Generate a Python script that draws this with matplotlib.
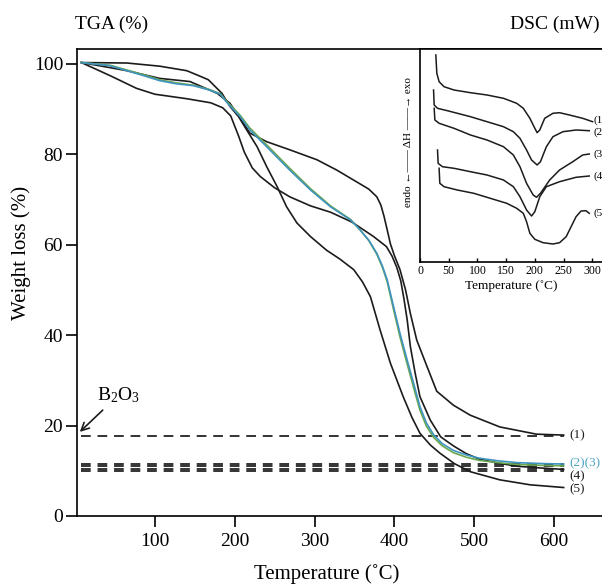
import numpy as np
import matplotlib
matplotlib.use("Agg")
import matplotlib.pyplot as plt

plt.rcParams['font.family'] = ['Liberation Serif', 'DejaVu Serif']
plt.rcParams['mathtext.fontset'] = 'custom'
plt.rcParams['mathtext.rm'] = 'Liberation Serif'
plt.rcParams['mathtext.default'] = 'rm'

# ---------------- TGA data (temperature in C, weight %) ----------------
t1 = [8, 40, 65, 106, 144, 178, 194, 205, 219, 240, 269, 303, 328, 349, 368, 378, 383, 387, 391,
      395, 400, 407, 414, 420, 428, 441, 453, 474, 495, 532, 578, 612]
w1 = [100.3, 99.3, 98.5, 96.8, 96.1, 93.5, 91.3, 88.5, 84.7, 82.8, 81.0, 78.8, 76.5, 74.3, 72.3,
      70.6, 68.8, 66.3, 63.3, 60.2, 57.6, 54.5, 50.0, 44.8, 38.9, 33.0, 27.6, 24.5, 22.3, 19.7, 18.1, 17.9]

t2 = [8, 44, 86, 106, 127, 148, 169, 182, 190, 207, 219, 240, 269, 295, 320, 345, 357, 368, 378,
      385, 391, 399, 407, 416, 424, 432, 440, 449, 460, 474, 490, 506, 530, 554, 585, 612]
w2 = [100.3, 99.7, 97.6, 96.5, 95.8, 95.3, 94.3, 93.4, 91.7, 88.6, 85.8, 82.1, 76.9, 72.4, 68.6,
      65.6, 63.3, 60.9, 57.9, 55.0, 51.8, 45.6, 39.6, 33.6, 28.4, 23.4, 19.9, 17.4, 15.5, 14.0, 13.0,
      12.3, 11.8, 11.4, 11.2, 11.1]

t3 = [8, 44, 86, 106, 127, 148, 169, 182, 190, 207, 219, 240, 269, 295, 320, 345, 357, 368, 378,
      385, 391, 399, 407, 416, 424, 432, 440, 449, 460, 474, 490, 506, 530, 554, 585, 612]
w3 = [100.3, 99.6, 97.4, 96.3, 95.6, 95.2, 94.2, 93.3, 91.5, 88.3, 85.4, 81.7, 76.5, 72.1, 68.4,
      65.5, 63.3, 61.0, 58.1, 55.3, 52.2, 46.3, 40.4, 34.5, 29.4, 24.2, 20.6, 18.0, 16.0, 14.5, 13.5,
      12.8, 12.2, 11.8, 11.6, 11.5]

t4 = [8, 44, 77, 100, 140, 170, 185, 195, 205, 212, 222, 232, 250, 269, 295, 320, 347, 374, 390,
      397, 403, 408, 412, 416, 420, 426, 432, 445, 458, 474, 490, 506, 530, 554, 585, 612]
w4 = [100.3, 97.4, 94.6, 93.3, 92.3, 91.4, 90.3, 88.5, 84.0, 80.5, 77.0, 75.1, 72.6, 70.6, 68.6,
      67.2, 65.0, 61.8, 59.6, 57.5, 55.0, 52.0, 48.0, 43.4, 37.5, 31.6, 26.4, 21.2, 17.5, 15.5, 13.8,
      12.6, 11.7, 11.0, 10.6, 10.3]

t5 = [8, 65, 106, 140, 155, 167, 184, 194, 205, 215, 228, 240, 253, 265, 278, 295, 315, 332, 349,
      360, 370, 382, 395, 411, 422, 432, 445, 457, 475, 495, 532, 570, 612]
w5 = [100.3, 100.2, 99.5, 98.5, 97.4, 96.5, 93.5, 90.6, 88.3, 85.4, 81.7, 77.3, 72.9, 68.4, 64.8,
      61.8, 58.8, 56.8, 54.5, 51.8, 48.5, 41.2, 33.8, 26.4, 21.8, 18.3, 15.7, 13.9, 11.6, 9.8, 8.0, 6.9, 6.3]

# theoretical B2O3 residue levels
b2o3_levels = [17.8, 11.5, 11.0, 10.5, 10.0]

# ---------------- DSC data (temperature in C, signal a.u.) ----------------
d1_t = [27.6, 29.3, 33.3, 41.9, 59.2, 87.9, 116.7, 145.4, 168.4, 179.9, 191.4, 200.0, 204.0,
        208.6, 217.2, 231.6, 243.1, 260.3, 283.3, 300.6]
d1_s = [207, 188.7, 180.3, 175.3, 172, 169.3, 167, 163.7, 158.7, 153.7, 143.7, 133.7, 129.3,
        132, 143.7, 148.7, 149.3, 147, 143.7, 140.3]
d2_t = [23.6, 24.7, 30.5, 47.7, 87.9, 116.7, 145.4, 162.6, 174.1, 185.6, 194.3, 204.0, 209.8,
        220.1, 231.6, 248.9, 271.8, 294.8]
d2_s = [172, 157, 153.7, 151.3, 145.3, 140.3, 135.3, 130.3, 123.7, 112, 102, 97, 100.3,
        115.3, 125.3, 130.3, 132, 131.3]
d3_t = [24.7, 25.9, 33.3, 59.2, 87.9, 116.7, 145.4, 162.6, 174.1, 185.6, 197.1, 202.9, 209.8,
        225.9, 243.1, 266.1, 283.3, 294.8]
d3_s = [153.7, 142, 138.7, 133.7, 127, 122, 115.3, 107, 95.3, 78.7, 67, 64.7, 68.7,
        82, 92, 100.3, 107, 108]
d4_t = [30.5, 31.6, 39.1, 59.2, 87.9, 116.7, 145.4, 162.6, 174.1, 185.6, 194.3, 200.0, 208.6,
        220.1, 243.1, 271.8, 294.8]
d4_s = [112, 98.7, 95.3, 93.7, 90.3, 87, 82, 75.3, 65.3, 52, 46, 50.3, 65.3,
        75.3, 80.3, 84.7, 86]
d5_t = [33.3, 34.5, 41.9, 64.9, 93.7, 122.4, 151.1, 168.4, 179.9, 185.6, 191.4, 200.0, 214.4,
        231.6, 243.1, 254.6, 263.2, 271.8, 280.5, 289.0, 294.8]
d5_s = [93.7, 78.7, 75.3, 72, 68.7, 63.7, 58.7, 53.7, 48.7, 40.3, 28.7, 22.7, 19.3,
        18, 19.3, 25.3, 35.3, 45.3, 51, 51.3, 48.7]
dsc_labels = ["(1)", "(2)", "(3)", "(4)", "(5)"]
dsc_label_s = [142, 130.3, 107.7, 86, 48.7]

black = "#1c1c1c"
green = "#6aa84f"
blue = "#3f93bf"

fig = plt.figure(figsize=(6.02, 5.86), dpi=100)
ax = fig.add_axes([77 / 602, 70 / 586, 525 / 602, 467 / 586])

for lvl in b2o3_levels:
    ax.plot([8, 612], [lvl, lvl], color="#333333", lw=1.4, ls=(0, (5, 3.5)))

ax.plot(t1, w1, color=black, lw=1.2)
ax.plot(t4, w4, color=black, lw=1.2)
ax.plot(t5, w5, color=black, lw=1.2)
ax.plot(t2, w2, color=green, lw=1.2)
ax.plot(t3, w3, color=blue, lw=1.2)

ax.text(619, 17.8, "(1)", fontsize=9.5, va="center", ha="left", color=black)
ax.text(619, 11.7, "(2)(3)", fontsize=9.5, va="center", ha="left", color="#4fa3c4")
ax.text(619, 8.7, "(4)", fontsize=9.5, va="center", ha="left", color=black)
ax.text(619, 6.0, "(5)", fontsize=9.5, va="center", ha="left", color=black)

ax.annotate("B$_2$O$_3$", xy=(6, 18.6), xytext=(27, 25.5), fontsize=14,
            arrowprops=dict(arrowstyle="->", color=black, lw=1.2, shrinkA=2, shrinkB=0))

ax.set_xlim(2.5, 660)
ax.set_ylim(0, 103.3)
ax.set_xticks([100, 200, 300, 400, 500, 600])
ax.set_yticks([0, 20, 40, 60, 80, 100])
ax.tick_params(direction="out", length=8, width=1.2, labelsize=14)
ax.tick_params(axis="x", pad=4)
ax.tick_params(axis="y", pad=2)
ax.spines["right"].set_visible(False)
for s in ["left", "bottom", "top"]:
    ax.spines[s].set_linewidth(1.2)
ax.set_xlabel("Temperature (˚C)", fontsize=15)
ax.set_ylabel("Weight loss (%)", fontsize=15)
ax.xaxis.set_label_coords(0.476, -0.103)
ax.yaxis.set_label_coords(-0.088, 0.563)

fig.text(75 / 602, 1 - 24 / 586, "TGA (%)", fontsize=14, ha="left", va="center")
fig.text(600 / 602, 1 - 24 / 586, "DSC (mW)", fontsize=14, ha="right", va="center")

# ---------------- DSC inset ----------------
ins = fig.add_axes([420 / 602, 324 / 586, 182 / 602, 213 / 586])
ins.set_facecolor("white")
for tt, ss in [(d1_t, d1_s), (d2_t, d2_s), (d3_t, d3_s), (d4_t, d4_s), (d5_t, d5_s)]:
    ins.plot(tt, ss, color=black, lw=1.1)
for lab, ys in zip(dsc_labels, dsc_label_s):
    ins.text(302, ys, lab, fontsize=8, va="center", ha="left", clip_on=False)
ins.set_xlim(0, 317)
ins.set_ylim(0, 213)
ins.set_xticks([0, 50, 100, 150, 200, 250, 300])
ins.set_yticks([])
ins.tick_params(axis="x", direction="in", length=3, width=1, labelsize=8.5, pad=2)
ins.spines["right"].set_visible(False)
for s in ["left", "bottom", "top"]:
    ins.spines[s].set_linewidth(1.2)
ins.set_xlabel("Temperature (˚C)", fontsize=9.5, labelpad=2.5)
ins.set_ylabel("endo ←—— ΔH ——→ exo", fontsize=8)
ins.yaxis.set_label_coords(-0.04, 0.563)

fig.savefig("out.png", dpi=100)
